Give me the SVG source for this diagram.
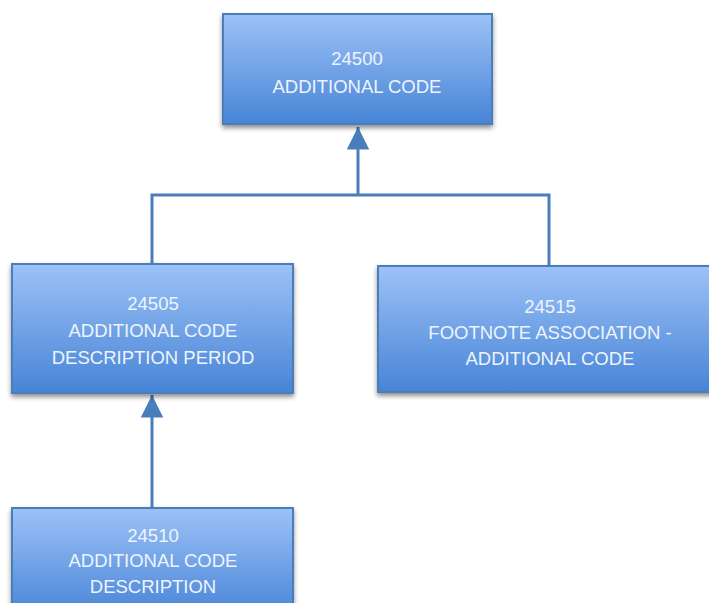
<svg xmlns="http://www.w3.org/2000/svg" width="709" height="603" viewBox="0 0 709 603">
<defs>
<linearGradient id="g" x1="0" y1="0" x2="0" y2="1">
<stop offset="0" stop-color="#9cc2f7"/>
<stop offset="1" stop-color="#4784d6"/>
</linearGradient>
<filter id="sh" x="-10%" y="-10%" width="120%" height="130%">
<feGaussianBlur in="SourceAlpha" stdDeviation="2.5"/>
<feOffset dx="0" dy="3"/>
<feComponentTransfer><feFuncA type="linear" slope="0.45"/></feComponentTransfer>
<feMerge><feMergeNode/><feMergeNode in="SourceGraphic"/></feMerge>
</filter>
<marker id="ah" viewBox="0 0 10 10" refX="10" refY="5" markerWidth="7.5" markerHeight="7.5" markerUnits="strokeWidth" orient="auto">
<path d="M0,0 L10,5 L0,10 z" fill="#4a7ebb"/>
</marker>
</defs>
<style>
.box{fill:url(#g);stroke:#4a7ebb;stroke-width:2;filter:url(#sh)}
.t{font-family:"Liberation Sans",Arial,sans-serif;font-size:18.5px;fill:#eef4fd;text-anchor:middle}
.c{fill:none;stroke:#4a7ebb;stroke-width:3}
</style>
<rect width="709" height="603" fill="#ffffff"/>
<g id="connectors">
<path class="c" d="M152,264 V195 H549 V266"/>
<path class="c" d="M358,195 V127" marker-end="url(#ah)"/>
<path class="c" d="M152,508 V395" marker-end="url(#ah)"/>
</g>
<g id="n24500">
<rect class="box" x="223" y="14" width="269" height="110"/>
<text class="t" x="357" y="65">24500</text>
<text class="t" x="357" y="93">ADDITIONAL CODE</text>
</g>
<g id="n24505">
<rect class="box" x="12" y="264" width="281" height="129"/>
<text class="t" x="153" y="310">24505</text>
<text class="t" x="153" y="337">ADDITIONAL CODE</text>
<text class="t" x="153" y="364">DESCRIPTION PERIOD</text>
</g>
<g id="n24515">
<rect class="box" x="378" y="266" width="340" height="126"/>
<text class="t" x="550" y="313">24515</text>
<text class="t" x="550" y="339">FOOTNOTE ASSOCIATION -</text>
<text class="t" x="550" y="365">ADDITIONAL CODE</text>
</g>
<g id="n24510">
<rect class="box" x="12" y="508" width="281" height="110"/>
<text class="t" x="153" y="542">24510</text>
<text class="t" x="153" y="567">ADDITIONAL CODE</text>
<text class="t" x="153" y="593">DESCRIPTION</text>
</g>
</svg>
